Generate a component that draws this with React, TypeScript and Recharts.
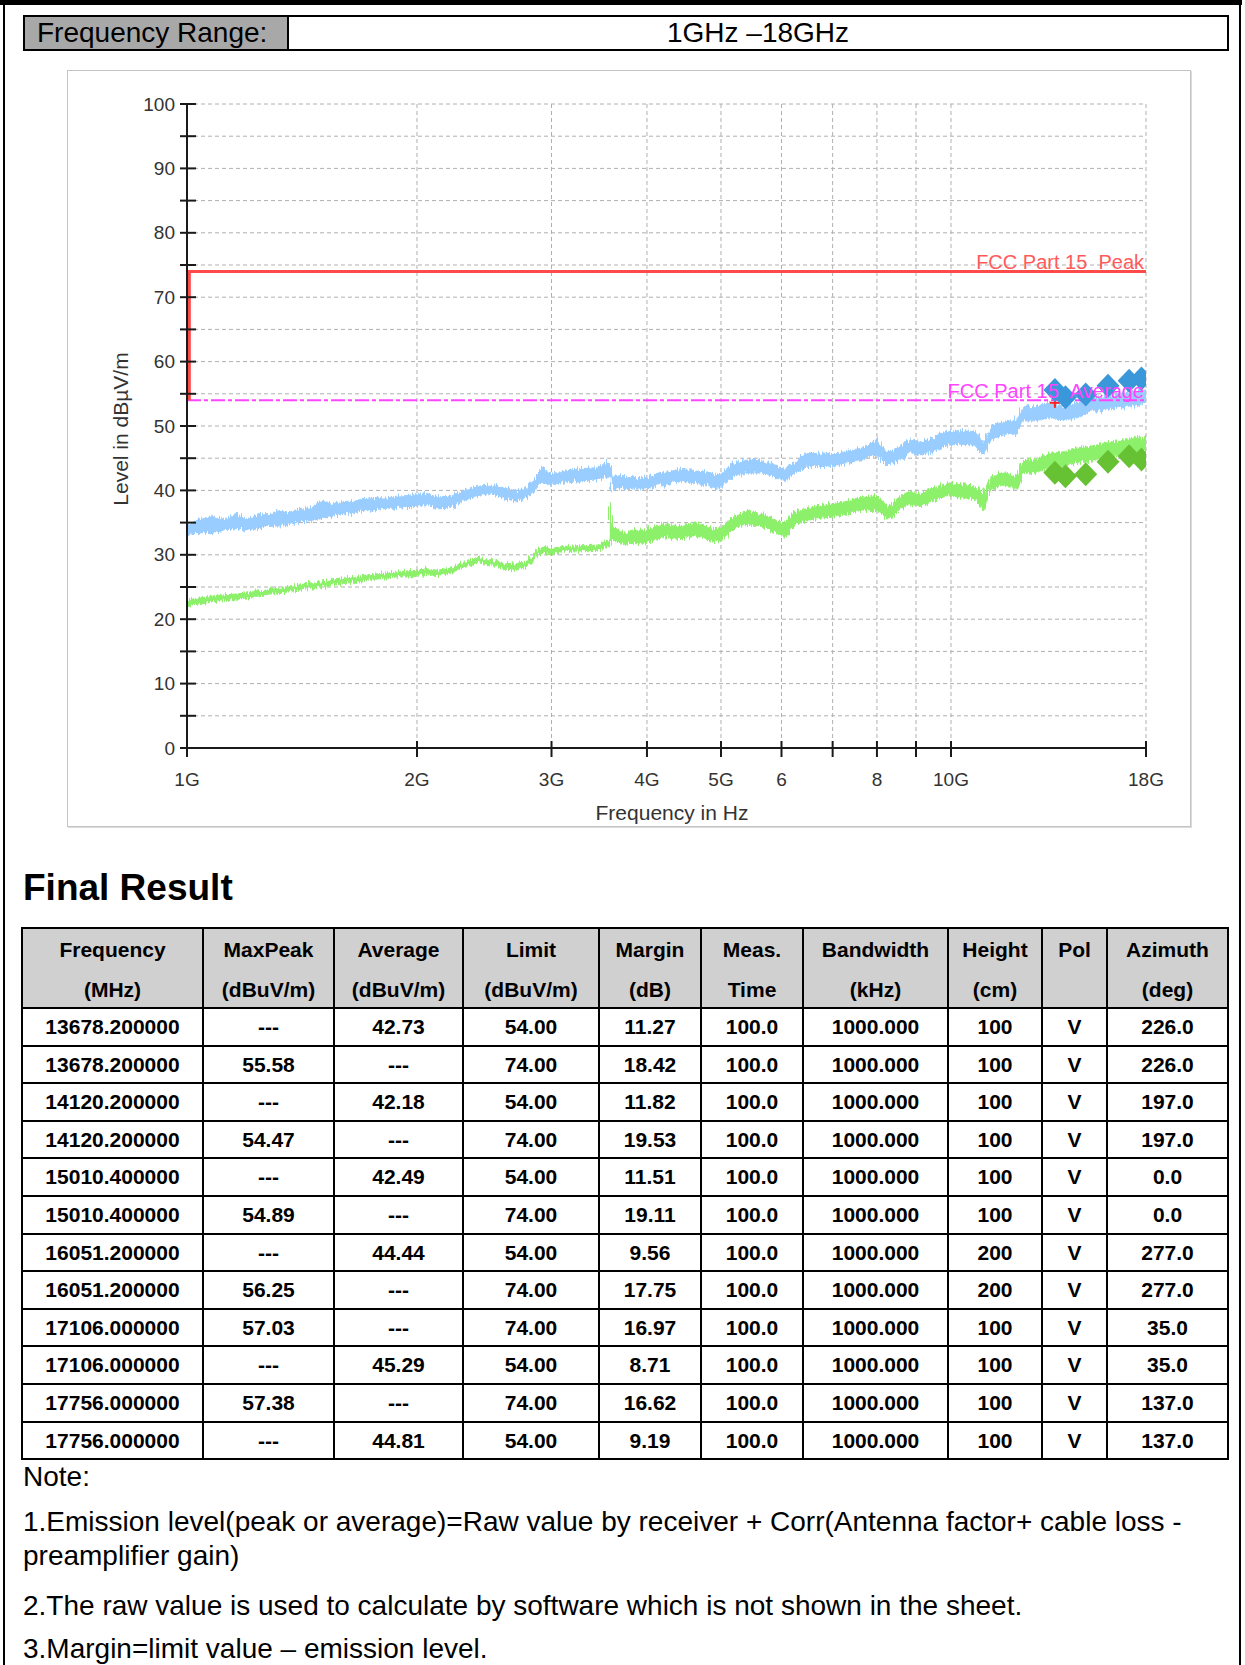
import React from "react";
import {
  ComposedChart,
  Area,
  Line,
  Scatter,
  XAxis,
  YAxis,
  CartesianGrid,
  ReferenceLine,
} from "recharts";

const SANS = '"Liberation Sans", Arial, Helvetica, sans-serif';

// sweep traces (GHz, dBuV/m, lower / upper edge of the noisy trace)
const traceFreqGHz = [
  1.0, 1.04, 1.08, 1.12, 1.16, 1.2, 1.24, 1.28, 1.32, 1.36, 1.4, 1.45, 1.5, 1.55, 1.6, 1.65, 1.7,
  1.76, 1.82, 1.88, 1.94, 2.0, 2.06, 2.13, 2.22, 2.31, 2.4, 2.5, 2.6, 2.7, 2.8, 2.86, 2.92, 3.0,
  3.12, 3.28, 3.45, 3.54, 3.58, 3.585, 3.6, 3.73, 3.85, 3.97, 4.1, 4.21, 4.35, 4.46, 4.64, 4.83,
  4.98, 5.05, 5.18, 5.4, 5.67, 5.9, 6.05, 6.26, 6.51, 6.78, 7.07, 7.37, 7.67, 7.99, 8.27, 8.57,
  8.83, 9.1, 9.41, 9.89, 10.29, 10.74, 11.04, 11.26, 11.72, 12.2, 12.4, 12.9, 13.5, 14.1, 14.6,
  15.2, 15.8, 16.5, 17.2, 18.0,
];
const peakLow = [
  33.0, 33.6, 33.4, 33.9, 34.1, 33.7, 34.2, 34.4, 34.5, 34.8, 35.1, 35.3, 35.6, 36.0, 36.3, 36.5,
  36.8, 37.0, 37.2, 37.3, 37.5, 37.5, 37.8, 37.3, 37.4, 38.4, 39.2, 39.5, 38.8, 38.3, 39.0, 40.3,
  41.2, 40.9, 41.3, 41.5, 41.6, 42.0, 42.3, 40.2, 40.0, 40.4, 40.2, 40.2, 40.6, 40.9, 41.2, 41.4,
  41.1, 40.8, 40.2, 41.0, 42.2, 42.7, 42.7, 41.9, 41.4, 42.7, 43.7, 43.7, 43.8, 44.3, 44.7, 45.6,
  43.8, 44.8, 46.0, 45.5, 46.0, 47.0, 47.2, 47.0, 45.5, 48.0, 48.5, 48.8, 50.8, 50.8, 51.3, 50.9,
  51.3, 52.3, 52.4, 52.8, 53.2, 53.5,
];
const peakHigh = [
  34.5, 35.6, 35.9, 35.5, 36.3, 35.5, 36.2, 36.4, 36.8, 36.5, 37.0, 37.3, 38.4, 37.9, 38.1, 38.3,
  38.7, 38.9, 38.8, 39.1, 39.2, 39.4, 39.5, 39.0, 39.1, 40.1, 40.8, 41.0, 40.3, 39.8, 40.6, 42.2,
  43.6, 42.5, 43.0, 43.4, 43.5, 44.6, 43.9, 43.8, 42.2, 42.3, 42.0, 42.0, 42.4, 42.8, 43.1, 43.4,
  43.0, 42.8, 42.3, 43.0, 44.2, 44.7, 44.6, 43.9, 43.3, 44.6, 45.7, 45.8, 45.7, 46.2, 46.6, 47.9,
  45.8, 46.8, 48.0, 47.5, 48.0, 49.1, 49.3, 49.1, 47.4, 50.1, 50.6, 50.9, 53.0, 53.0, 53.6, 53.0,
  53.5, 54.5, 54.5, 55.0, 55.3, 55.6,
];
const avgLow = [
  22.1, 22.4, 22.7, 22.9, 23.1, 23.3, 23.6, 23.9, 24.0, 24.3, 24.5, 24.8, 25.0, 25.3, 25.5, 25.8,
  26.0, 26.2, 26.4, 26.6, 26.7, 26.8, 26.9, 26.8, 27.2, 28.2, 28.8, 28.4, 27.8, 27.6, 28.4, 29.6,
  30.4, 30.1, 30.5, 30.6, 30.7, 31.2, 31.4, 31.6, 32.3, 31.6, 31.8, 31.8, 32.3, 32.8, 32.6, 32.5,
  33.0, 32.2, 32.0, 32.6, 33.8, 34.8, 34.4, 33.3, 32.9, 34.8, 35.4, 35.7, 35.9, 36.5, 37.0, 37.0,
  35.4, 37.0, 37.8, 37.4, 38.2, 39.2, 38.9, 38.7, 37.0, 40.2, 40.8, 40.2, 42.6, 42.8, 43.5, 43.8,
  44.3, 44.5, 45.0, 45.2, 45.7, 46.0,
];
const avgHigh = [
  23.0, 23.3, 23.6, 23.8, 23.9, 24.1, 24.4, 24.6, 24.8, 25.0, 25.3, 25.6, 25.8, 26.1, 26.3, 26.6,
  26.8, 27.0, 27.2, 27.3, 27.5, 27.6, 27.8, 27.6, 28.0, 29.0, 29.6, 29.2, 28.6, 28.4, 29.3, 30.6,
  31.3, 31.0, 31.3, 31.4, 31.5, 32.1, 32.3, 37.8, 34.2, 33.5, 33.7, 33.9, 34.5, 34.8, 34.6, 34.5,
  35.0, 34.2, 34.0, 34.6, 35.8, 36.8, 36.4, 35.3, 35.0, 36.8, 37.4, 37.7, 37.9, 38.5, 39.0, 39.2,
  37.5, 39.0, 39.8, 39.4, 40.2, 41.2, 40.9, 40.7, 39.3, 42.2, 42.8, 42.2, 44.6, 44.8, 45.8, 46.0,
  46.6, 46.8, 47.3, 47.7, 48.0, 48.4,
];

// limit lines (the peak limit rises at the left edge, just inside 1 GHz)
const peakLimitFreq = [1.007, 1.007, 18];
const peakLimitLevel = [54, 74, 74];
const avgLimitFreq = [1, 18];
const avgLimitLevel = [54, 54];

// axes
const xTicks = [1, 2, 3, 4, 5, 6, 7, 8, 9, 10, 18];
const xTickLabels = ["1G", "2G", "3G", "4G", "5G", "6", "", "8", "", "10G", "18G"];
const yTicks = [0, 5, 10, 15, 20, 25, 30, 35, 40, 45, 50, 55, 60, 65, 70, 75, 80, 85, 90, 95, 100];

// final result table
const resultFreqMHz = [
  13678.2, 13678.2, 14120.2, 14120.2, 15010.4, 15010.4, 16051.2, 16051.2, 17106.0, 17106.0,
  17756.0, 17756.0,
];
const resultMaxPeak = [null, 55.58, null, 54.47, null, 54.89, null, 56.25, 57.03, null, 57.38, null];
const resultAverage = [42.73, null, 42.18, null, 42.49, null, 44.44, null, null, 45.29, null, 44.81];
const resultLimit = [54, 74, 54, 74, 54, 74, 54, 74, 74, 54, 74, 54];
const resultMargin = [11.27, 18.42, 11.82, 19.53, 11.51, 19.11, 9.56, 17.75, 16.97, 8.71, 16.62, 9.19];
const resultMeasTime = [100, 100, 100, 100, 100, 100, 100, 100, 100, 100, 100, 100];
const resultBandwidth = [1000, 1000, 1000, 1000, 1000, 1000, 1000, 1000, 1000, 1000, 1000, 1000];
const resultHeight = [100, 100, 100, 100, 100, 100, 200, 200, 100, 100, 100, 100];
const resultPol = ["V", "V", "V", "V", "V", "V", "V", "V", "V", "V", "V", "V"];
const resultAzimuth = [226, 226, 197, 197, 0, 0, 277, 277, 35, 35, 137, 137];

const redMarkerFreq = [13.6782];
const redMarkerLevel = [53.6];

const headerLines = [
  ["Frequency", "(MHz)"],
  ["MaxPeak", "(dBuV/m)"],
  ["Average", "(dBuV/m)"],
  ["Limit", "(dBuV/m)"],
  ["Margin", "(dB)"],
  ["Meas.", "Time"],
  ["Bandwidth", "(kHz)"],
  ["Height", "(cm)"],
  ["Pol", ""],
  ["Azimuth", "(deg)"],
];
const colWidths = [181, 131, 129, 136, 102, 102, 145, 94, 65, 121];

const traceData = traceFreqGHz.map((f, i) => ({
  freq: f,
  peak: [peakLow[i], peakHigh[i]],
  avg: [avgLow[i], avgHigh[i]],
}));
const peakLimitData = peakLimitFreq.map((f, i) => ({ freq: f, level: peakLimitLevel[i] }));
const avgLimitData = avgLimitFreq.map((f, i) => ({ freq: f, level: avgLimitLevel[i] }));
const peakMarkers = resultFreqMHz
  .map((f, i) => ({ freq: f / 1000, level: resultMaxPeak[i] }))
  .filter((d) => d.level != null);
const avgMarkers = resultFreqMHz
  .map((f, i) => ({ freq: f / 1000, level: resultAverage[i] }))
  .filter((d) => d.level != null);
const redMarkers = redMarkerFreq.map((f, i) => ({ freq: f, level: redMarkerLevel[i] }));

const dash = (v: number | null) => (v == null ? "---" : v.toFixed(2));
const tableRows = resultFreqMHz.map((f, i) => [
  f.toFixed(6),
  dash(resultMaxPeak[i]),
  dash(resultAverage[i]),
  resultLimit[i].toFixed(2),
  resultMargin[i].toFixed(2),
  resultMeasTime[i].toFixed(1),
  resultBandwidth[i].toFixed(3),
  String(resultHeight[i]),
  resultPol[i],
  resultAzimuth[i].toFixed(1),
]);

function XTick(props: any) {
  const { x, y, payload } = props;
  const idx = xTicks.indexOf(payload.value);
  const axisY = y - 12;
  return (
    <g>
      <line x1={x} x2={x} y1={axisY - 7} y2={axisY + 9} stroke="#1a1a1a" strokeWidth={2} />
      <text
        x={x}
        y={axisY + 31}
        textAnchor="middle"
        dominantBaseline="central"
        fontSize={19}
        fontFamily={SANS}
        fill="#333"
      >
        {idx >= 0 ? xTickLabels[idx] : ""}
      </text>
    </g>
  );
}

function YTick(props: any) {
  const { x, y, payload } = props;
  const axisX = x + 12;
  const v = payload.value;
  return (
    <g>
      <line x1={axisX - 7} x2={axisX + 9} y1={y} y2={y} stroke="#1a1a1a" strokeWidth={2} />
      {v % 10 === 0 && (
        <text
          x={x}
          y={y}
          textAnchor="end"
          dominantBaseline="central"
          fontSize={19}
          fontFamily={SANS}
          fill="#333"
        >
          {v}
        </text>
      )}
    </g>
  );
}

function Diamond(props: any) {
  const { cx, cy, fill } = props;
  if (cx == null || cy == null) return null;
  const rx = 11.5;
  const ry = 12;
  return (
    <polygon
      points={`${cx},${cy - ry} ${cx + rx},${cy} ${cx},${cy + ry} ${cx - rx},${cy}`}
      fill={fill}
    />
  );
}

function Cross(props: any) {
  const { cx, cy } = props;
  if (cx == null || cy == null) return null;
  return (
    <g stroke="#ff2020" strokeWidth={2}>
      <line x1={cx - 5} x2={cx + 5} y1={cy} y2={cy} />
      <line x1={cx} x2={cx} y1={cy - 5} y2={cy + 5} />
    </g>
  );
}

// rough edge for the receiver sweeps, so they read like a noisy trace instead of a clean band
function TraceFilter() {
  return (
    <svg width={0} height={0} style={{ position: "absolute" }}>
      <defs>
        <filter id="sweepNoise" x="-2%" y="-20%" width="104%" height="140%">
          <feTurbulence type="fractalNoise" baseFrequency="0.7 0.04" numOctaves={2} seed={4} result="n" />
          <feDisplacementMap in="SourceGraphic" in2="n" scale={9} xChannelSelector="B" yChannelSelector="R" />
        </filter>
      </defs>
    </svg>
  );
}

function EmissionChart() {
  return (
    <ComposedChart
      width={1123}
      height={755}
      data={traceData}
      margin={{ top: 33, right: 44, bottom: 38, left: 60 }}
    >
      <CartesianGrid stroke="#b0b0b0" strokeDasharray="4 3" />
      <XAxis
        dataKey="freq"
        type="number"
        scale="log"
        domain={[1, 18]}
        ticks={xTicks}
        interval={0}
        allowDataOverflow
        height={40}
        tickSize={8}
        tickMargin={4}
        tickLine={false}
        axisLine={{ stroke: "#1a1a1a", strokeWidth: 2 }}
        tick={<XTick />}
      />
      <YAxis
        type="number"
        domain={[0, 100]}
        ticks={yTicks}
        interval={0}
        width={60}
        tickSize={8}
        tickMargin={4}
        tickLine={false}
        axisLine={{ stroke: "#1a1a1a", strokeWidth: 2 }}
        tick={<YTick />}
      />
      <Area
        dataKey="peak"
        type="linear"
        stroke="#99ccff"
        strokeWidth={1}
        fill="#99ccff"
        fillOpacity={1}
        style={{ filter: "url(#sweepNoise)" }}
        isAnimationActive={false}
      />
      <Area
        dataKey="avg"
        type="linear"
        stroke="#8cf06a"
        strokeWidth={1}
        fill="#8cf06a"
        fillOpacity={1}
        style={{ filter: "url(#sweepNoise)" }}
        isAnimationActive={false}
      />
      <Line
        data={avgLimitData}
        dataKey="level"
        type="linear"
        stroke="#ff44ff"
        strokeWidth={2}
        strokeDasharray="14 3 4 3"
        dot={false}
        isAnimationActive={false}
      />
      <Line
        data={peakLimitData}
        dataKey="level"
        type="linear"
        stroke="#ff4a4a"
        strokeWidth={3}
        dot={false}
        isAnimationActive={false}
      />
      <ReferenceLine
        y={peakLimitLevel[2]}
        stroke="none"
        label={{
          value: "FCC Part 15\u00a0\u00a0Peak",
          position: "insideBottomRight",
          offset: 2,
          fill: "#ff5a5a",
          fontSize: 20,
          fontFamily: SANS,
        }}
      />
      <ReferenceLine
        y={avgLimitLevel[1]}
        stroke="none"
        label={{
          value: "FCC Part 15\u00a0\u00a0Average",
          position: "insideBottomRight",
          offset: 2,
          fill: "#ff44ff",
          fontSize: 20,
          fontFamily: SANS,
        }}
      />
      <Scatter data={redMarkers} dataKey="level" shape={<Cross />} isAnimationActive={false} />
      <Scatter
        data={peakMarkers}
        dataKey="level"
        fill="#3a97d9"
        shape={<Diamond />}
        isAnimationActive={false}
      />
      <Scatter
        data={avgMarkers}
        dataKey="level"
        fill="#66c133"
        shape={<Diamond />}
        isAnimationActive={false}
      />
    </ComposedChart>
  );
}

function ResultTable() {
  const left = 23;
  const top = 929;
  const headH = 80;
  const rowH = 37.6;
  const xs: number[] = [];
  let acc = left;
  colWidths.forEach((w) => {
    xs.push(acc);
    acc += w;
  });
  const cell = (x: number, y: number, w: number, h: number, bg: string): React.CSSProperties => ({
    position: "absolute",
    left: x,
    top: y,
    width: w,
    height: h,
    boxSizing: "border-box",
    borderRight: "2px solid #000",
    borderBottom: "2px solid #000",
    background: bg,
    textAlign: "center",
    fontWeight: "bold",
    fontSize: 21,
  });
  return (
    <>
      <div
        style={{
          position: "absolute",
          left: left - 2,
          top: top - 2,
          width: acc - left + 2,
          height: headH + rowH * tableRows.length + 2,
          boxSizing: "border-box",
          borderLeft: "2px solid #000",
          borderTop: "2px solid #000",
        }}
      />
      {headerLines.map((lines, c) => (
        <div key={"h" + c} style={cell(xs[c], top, colWidths[c], headH, "#d0d0d0")}>
          <div style={{ lineHeight: "42px" }}>{lines[0]}</div>
          <div style={{ lineHeight: "38px" }}>{lines[1] || "\u00a0"}</div>
        </div>
      ))}
      {tableRows.map((row, r) =>
        row.map((txt, c) => (
          <div
            key={r + "-" + c}
            style={{
              ...cell(xs[c], top + headH + r * rowH, colWidths[c], rowH, "#fff"),
              lineHeight: rowH - 2 + "px",
            }}
          >
            {txt}
          </div>
        ))
      )}
    </>
  );
}

export default function App() {
  const abs = (l: number, t: number): React.CSSProperties => ({ position: "absolute", left: l, top: t });
  return (
    <div
      style={{
        position: "absolute",
        left: 0,
        top: 0,
        width: 1245,
        height: 1665,
        background: "#fff",
        fontFamily: SANS,
        color: "#000",
        overflow: "hidden",
      }}
    >
      <TraceFilter />
      {/* page frame */}
      <div style={{ ...abs(0, 0), width: 1242, height: 5, background: "#000" }} />
      <div style={{ ...abs(3, 0), width: 2, height: 1665, background: "#000" }} />
      <div style={{ ...abs(1239, 0), width: 2, height: 1665, background: "#000" }} />

      {/* frequency range header */}
      <div
        style={{
          ...abs(23, 15),
          width: 266,
          height: 36,
          boxSizing: "border-box",
          border: "2px solid #000",
          background: "#a8a8a8",
          fontSize: 28,
          lineHeight: "32px",
          paddingLeft: 12,
        }}
      >
        Frequency Range:
      </div>
      <div
        style={{
          ...abs(287, 15),
          width: 942,
          height: 36,
          boxSizing: "border-box",
          border: "2px solid #000",
          fontSize: 28,
          lineHeight: "32px",
          textAlign: "center",
        }}
      >
        1GHz –18GHz
      </div>

      {/* chart panel */}
      <div
        style={{
          ...abs(67, 70),
          width: 1124,
          height: 757,
          boxSizing: "border-box",
          border: "1px solid #c4c4c4",
          boxShadow: "1px 1px 0 #dcdcdc",
        }}
      />
      <div style={{ ...abs(67, 71), width: 1123, height: 755 }}>
        <EmissionChart />
      </div>
      <div
        style={{
          ...abs(121, 429),
          transform: "translate(-50%, -50%) rotate(-90deg)",
          whiteSpace: "nowrap",
          fontSize: 21,
          color: "#333",
        }}
      >
        Level in dBµV/m
      </div>
      <div
        style={{
          ...abs(672, 813),
          transform: "translate(-50%, -50%)",
          whiteSpace: "nowrap",
          fontSize: 21,
          color: "#333",
        }}
      >
        Frequency in Hz
      </div>

      {/* final result */}
      <div style={{ ...abs(23, 866), fontSize: 37, fontWeight: "bold", lineHeight: "44px" }}>
        Final Result
      </div>
      <ResultTable />

      {/* notes */}
      <div style={{ ...abs(23, 1460), fontSize: 28, lineHeight: "34px" }}>Note:</div>
      <div style={{ ...abs(23, 1505), fontSize: 28, lineHeight: "34px", whiteSpace: "nowrap" }}>
        1.Emission level(peak or average)=Raw value by receiver + Corr(Antenna factor+ cable loss -
      </div>
      <div style={{ ...abs(23, 1539), fontSize: 28, lineHeight: "34px" }}>preamplifier gain)</div>
      <div style={{ ...abs(23, 1589), fontSize: 28, lineHeight: "34px", whiteSpace: "nowrap" }}>
        2.The raw value is used to calculate by software which is not shown in the sheet.
      </div>
      <div style={{ ...abs(23, 1632), fontSize: 28, lineHeight: "34px", whiteSpace: "nowrap" }}>
        3.Margin=limit value – emission level.
      </div>
    </div>
  );
}
